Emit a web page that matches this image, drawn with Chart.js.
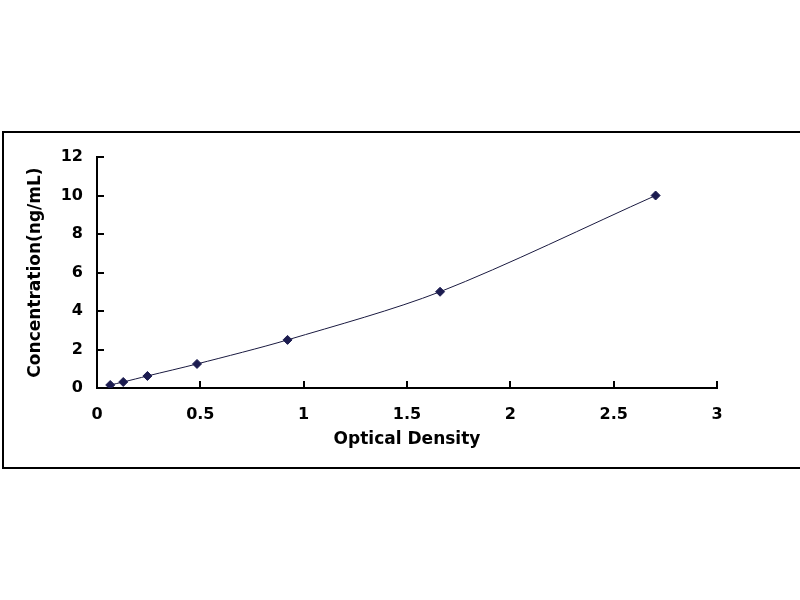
<!DOCTYPE html>
<html>
<head>
<meta charset="utf-8">
<script src="https://cdn.jsdelivr.net/npm/chart.js@4/dist/chart.umd.min.js"></script>
<style>
  html, body { margin: 0; padding: 0; background: #fff; overflow: hidden; }
  #frame { position: absolute; left: 2px; top: 131px; width: 830px; height: 334px; border: 2px solid #000; box-sizing: content-box; }
  #wrap { position: absolute; left: 0; top: 0; width: 800px; height: 600px; }
</style>
</head>
<body>
<div id="frame"></div>
<div id="wrap"><canvas id="c" width="800" height="600"></canvas></div>
<script>
const opticalDensity = [0.064, 0.127, 0.244, 0.484, 0.922, 1.660, 2.703];
const concentration = [0.156, 0.312, 0.625, 1.25, 2.5, 5, 10];
const xTicks = [0, 0.5, 1, 1.5, 2, 2.5, 3];
const yTicks = [0, 2, 4, 6, 8, 10, 12];
const xTitle = 'Optical Density';
const yTitle = 'Concentration(ng/mL)';

const points = opticalDensity.map((x, i) => ({ x: x, y: concentration[i] }));
const tickFont = { family: 'DejaVu Sans', weight: 'bold', size: 16 };
const titleFont = { family: 'DejaVu Sans', weight: 'bold', size: 17 };

const innerTicks = {
  id: 'innerTicks',
  afterDraw(chart) {
    const ctx = chart.ctx;
    const xs = chart.scales.x, ys = chart.scales.y;
    const len = 7;
    ctx.save();
    ctx.strokeStyle = '#000';
    ctx.lineWidth = 2;
    ctx.beginPath();
    xTicks.forEach(v => {
      if (v === xs.min) return;
      const px = Math.round(xs.getPixelForValue(v));
      ctx.moveTo(px, ys.bottom);
      ctx.lineTo(px, ys.bottom - len);
    });
    yTicks.forEach(v => {
      if (v === ys.min) return;
      const py = Math.round(ys.getPixelForValue(v));
      ctx.moveTo(xs.left, py);
      ctx.lineTo(xs.left + len, py);
    });
    ctx.stroke();
    ctx.restore();
  }
};

new Chart(document.getElementById('c'), {
  type: 'scatter',
  data: {
    datasets: [{
      data: points,
      showLine: true,
      tension: 0.3,
      borderColor: '#1a1a40',
      borderWidth: 1,
      pointStyle: 'rectRot',
      pointRadius: 4.5,
      pointBackgroundColor: '#1c1c50',
      pointBorderColor: '#1c1c50',
      pointBorderWidth: 1
    }]
  },
  options: {
    responsive: false,
    animation: false,
    devicePixelRatio: 1,
    layout: { padding: { left: 0, top: 157, right: 83, bottom: 140 } },
    plugins: { legend: { display: false }, tooltip: { enabled: false } },
    scales: {
      x: {
        type: 'linear',
        min: 0, max: 3,
        afterBuildTicks(scale) { scale.ticks = xTicks.map(v => ({ value: v })); },
        afterFit(scale) { scale.height = 72; },
        grid: { display: false, drawTicks: false },
        border: { display: true, color: '#000', width: 2 },
        ticks: { color: '#000', font: tickFont, padding: 17, maxRotation: 0, callback: v => String(v) },
        title: { display: true, text: xTitle, color: '#000', font: titleFont, padding: { top: 0, bottom: 10 } }
      },
      y: {
        type: 'linear',
        min: 0, max: 12,
        afterBuildTicks(scale) { scale.ticks = yTicks.map(v => ({ value: v })); },
        afterFit(scale) { scale.width = 97; },
        grid: { display: false, drawTicks: false },
        border: { display: true, color: '#000', width: 2 },
        ticks: { color: '#000', font: tickFont, padding: 14, callback: v => String(v) },
        title: { display: true, text: yTitle, color: '#000', font: titleFont, padding: { top: 25, bottom: 0 } }
      }
    }
  },
  plugins: [innerTicks]
});
</script>
</body>
</html>
